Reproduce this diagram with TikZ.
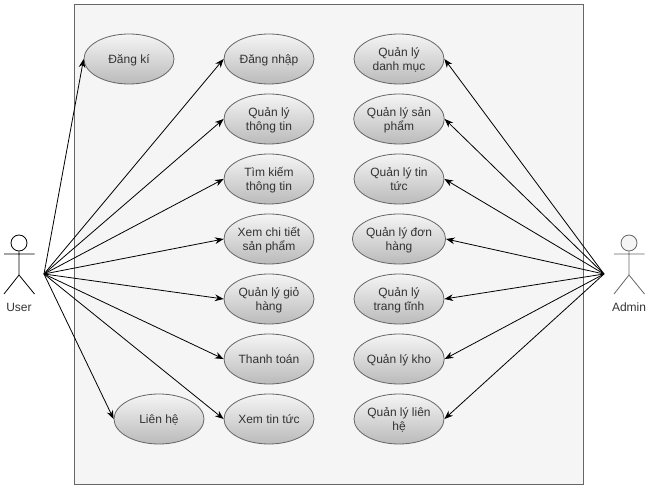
\documentclass[tikz,border=0pt]{standalone}
\usepackage{fontspec}
\setmainfont{Liberation Sans}
\usetikzlibrary{shapes.geometric,arrows.meta}
\definecolor{frameline}{HTML}{666666}
\definecolor{framefill}{HTML}{F5F5F5}
\definecolor{txt}{HTML}{333333}
\newcommand{\ucl}[1]{\raisebox{-1.1pt}[\height][\depth]{\begin{tabular}{@{}c@{}}#1\end{tabular}}}
\tikzset{
  usecase/.style={ellipse,draw=frameline,line width=0.6pt,top color=framefill,bottom color=black!27,shading angle=0,
    minimum width=67.5pt,minimum height=37.5pt,inner sep=0pt,text=txt,font=\fontsize{9}{10.8}\selectfont},
  link/.style={-{Stealth[length=6.5pt,width=5pt]},black,line width=0.6pt},
  actorline/.style={line width=0.6pt},
  actorlabel/.style={inner sep=0pt,font=\fontsize{9}{11}\selectfont},
}
\begin{document}
\begin{tikzpicture}[x=0.75pt,y=-0.75pt]
\useasboundingbox (0,0) rectangle (653,491);
\node[draw=frameline,fill=framefill,line width=0.6pt,minimum width=381.75pt,minimum height=360pt,inner sep=0pt] (frame) at (328.5,244) {};
% use cases
\node[usecase] (dangki) at (129,59) {\ucl{Đăng kí}};
\node[usecase] (dangnhap) at (269,59) {\ucl{Đăng nhập}};
\node[usecase] (thongtin) at (269,119) {\ucl{Quản lý\\thông tin}};
\node[usecase] (timkiem) at (269,179) {\ucl{Tìm kiếm\\thông tin}};
\node[usecase] (chitiet) at (269,239) {\ucl{Xem chi tiết\\sản phẩm}};
\node[usecase] (giohang) at (269,299) {\ucl{Quản lý giỏ\\hàng}};
\node[usecase] (thanhtoan) at (269,359) {\ucl{Thanh toán}};
\node[usecase] (tintuc) at (269,419) {\ucl{Xem tin tức}};
\node[usecase] (lienhe) at (159,419) {\ucl{Liên hệ}};
\node[usecase] (danhmuc) at (399,59) {\ucl{Quản lý\\danh mục}};
\node[usecase] (sanpham) at (399,119) {\ucl{Quản lý sản\\phẩm}};
\node[usecase] (qltin) at (399,179) {\ucl{Quản lý tin\\tức}};
\node[usecase] (donhang) at (399,239) {\ucl{Quản lý đơn\\hàng}};
\node[usecase] (trangtinh) at (399,299) {\ucl{Quản lý\\trang tĩnh}};
\node[usecase] (kho) at (399,359) {\ucl{Quản lý kho}};
\node[usecase] (qllienhe) at (399,419) {\ucl{Quản lý liên\\hệ}};
% user actor
\node[circle,draw=black,fill=white,actorline,minimum size=12pt,inner sep=0pt] (userhead) at (19,243) {};
\coordinate (userhip) at (19,275);
\coordinate (userarml) at (4,254);
\coordinate (userarmr) at (34.5,254);
\coordinate (userlegl) at (4,294);
\coordinate (userlegr) at (34.5,294);
\draw[actorline] (userhead.south) -- (userhip) (userarml) -- (userarmr) (userlegl) -- (userhip) -- (userlegr);
\node[actorlabel,text=txt] (userlabel) at (19,307) {User};
% admin actor
\node[circle,draw=frameline,fill=framefill,actorline,minimum size=12pt,inner sep=0pt] (adminhead) at (629,243) {};
\coordinate (adminhip) at (629,275);
\coordinate (adminarml) at (614,254);
\coordinate (adminarmr) at (644.5,254);
\coordinate (adminlegl) at (614,294);
\coordinate (adminlegr) at (644.5,294);
\draw[actorline,frameline] (adminhead.south) -- (adminhip) (adminarml) -- (adminarmr) (adminlegl) -- (adminhip) -- (adminlegr);
\node[actorlabel,text=txt] (adminlabel) at (629,307) {Admin};
% connectors
\coordinate (userport) at (44,274);
\coordinate (adminport) at (604,274);
\foreach \t in {dangki,dangnhap,thongtin,timkiem,chitiet,giohang,thanhtoan,tintuc,lienhe}
  \draw[link] (userport) -- (\t.west);
\foreach \t in {danhmuc,sanpham,qltin,donhang,trangtinh,kho,qllienhe}
  \draw[link] (adminport) -- (\t.east);
\end{tikzpicture}
\end{document}
